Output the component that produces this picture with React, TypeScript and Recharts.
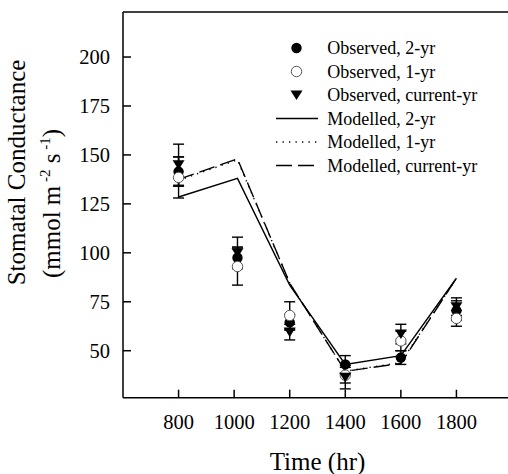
import { ComposedChart, Line, Scatter, XAxis, YAxis, ErrorBar, Legend } from 'recharts';

// hours of the observations (the mid-morning set was taken a bit after 1000)
const OBS_HOURS = [800, 1012, 1200, 1400, 1600, 1800];
const OBS_2YR = [141.5, 97.5, 64.5, 43, 46.5, 70.5];
const ERR_2YR = [7.5, 5.5, 4, 4.5, 3.5, 5];
const OBS_1YR = [138.5, 93, 68, 37.5, 55, 66.5];
const ERR_1YR = [10.5, 9.5, 7, 4, 5, 4];
const OBS_CUR = [145, 100, 59.5, 36.5, 58.5, 72.5];
const ERR_CUR = [10.5, 8, 4, 6, 5, 4.5];

const MOD_HOURS = [800, 1012, 1200, 1400, 1600, 1800];
const MOD_2YR = [128.5, 138, 83.5, 43, 47.5, 87];
const MOD_1YR = [137, 147.5, 84.5, 39.5, 44, 87];
const MOD_CUR = [137.5, 148, 84.5, 39.5, 43.5, 87];

const X_TICKS = [800, 1000, 1200, 1400, 1600, 1800];
const Y_TICKS = [50, 75, 100, 125, 150, 175, 200];

const LEGEND_LABELS = [
  'Observed, 2-yr',
  'Observed, 1-yr',
  'Observed, current-yr',
  'Modelled, 2-yr',
  'Modelled, 1-yr',
  'Modelled, current-yr',
];

const FONT = '"Liberation Serif", "Times New Roman", serif';

const toRows = (xs: number[], ys: number[], errs?: number[]) =>
  xs.map((x, i) => ({ x, y: ys[i], err: errs ? errs[i] : 0 }));

const FilledDot = (p: any) => <circle cx={p.cx} cy={p.cy} r={5.2} fill="#000" />;
const OpenDot = (p: any) => <circle cx={p.cx} cy={p.cy} r={5.2} fill="#fff" stroke="#555" strokeWidth={1} />;
const DownTri = (p: any) => (
  <path d={`M${p.cx - 6},${p.cy - 4.5} L${p.cx + 6},${p.cy - 4.5} L${p.cx},${p.cy + 5} Z`} fill="#000" />
);

const LegendBox = () => {
  const rowY = (i: number) => 13 + i * 23.5;
  return (
    <svg width={238} height={150} style={{ display: 'block' }}>
      <circle cx={26.5} cy={rowY(0)} r={5.2} fill="#000" />
      <circle cx={26.5} cy={rowY(1)} r={5.2} fill="none" stroke="#555" strokeWidth={1} />
      <path d={`M20.5,${rowY(2) - 4.5} L32.5,${rowY(2) - 4.5} L26.5,${rowY(2) + 5} Z`} fill="#000" />
      <line x1={6} x2={48} y1={rowY(3)} y2={rowY(3)} stroke="#000" strokeWidth={1.3} />
      <line x1={6} x2={48} y1={rowY(4)} y2={rowY(4)} stroke="#000" strokeWidth={1.3} strokeDasharray="1.3 5.2" />
      <line x1={6} x2={48} y1={rowY(5)} y2={rowY(5)} stroke="#000" strokeWidth={1.3} strokeDasharray="16 6" />
      {LEGEND_LABELS.map((t, i) => (
        <text key={t} x={57.3} y={rowY(i) + 6} fontSize={18} fontFamily={FONT} fill="#000">
          {t}
        </text>
      ))}
    </svg>
  );
};

const YTitle = () => (
  <g>
    <text transform="translate(25,172.5) rotate(-90)" textAnchor="middle" fontSize={25} fontFamily={FONT} fill="#000">
      Stomatal Conductance
    </text>
    <text transform="translate(60,203.5) rotate(-90)" textAnchor="middle" fontSize={25} fontFamily={FONT} fill="#000">
      (mmol m
      <tspan fontSize={15} dy={-10}> -2</tspan>
      <tspan dy={10}> s</tspan>
      <tspan fontSize={15} dy={-10}> -1</tspan>
      <tspan dy={10}>)</tspan>
    </text>
  </g>
);

const XTitle = () => (
  <text x={317.5} y={470} textAnchor="middle" fontSize={25} fontFamily={FONT} fill="#000">
    Time (hr)
  </text>
);

const axisLine = { stroke: '#000', strokeWidth: 1.5 };
const tickStyle = { fill: '#000', fontSize: 20.5, fontFamily: FONT };

export default function App() {
  return (
    <div style={{ position: 'absolute', left: 0, top: 0, width: 508, height: 474, overflow: 'hidden', background: '#fff' }}>
      <ComposedChart width={520} height={474} margin={{ top: 11, right: 8, bottom: 0, left: 0 }}>
        <XAxis
          type="number"
          dataKey="x"
          domain={[600, 2000]}
          ticks={X_TICKS}
          allowDataOverflow
          height={76.3}
          tickSize={-8}
          tickMargin={25}
          axisLine={axisLine}
          tickLine={axisLine}
          tick={tickStyle}
          label={XTitle}
        />
        <XAxis
          xAxisId="top"
          orientation="top"
          type="number"
          dataKey="x"
          domain={[600, 2000]}
          ticks={X_TICKS}
          allowDataOverflow
          height={1}
          tickSize={-8}
          axisLine={axisLine}
          tickLine={axisLine}
          tick={false}
        />
        <YAxis
          type="number"
          dataKey="y"
          domain={[26, 223]}
          ticks={Y_TICKS}
          allowDataOverflow
          width={123}
          tickSize={-8}
          tickMargin={21}
          axisLine={axisLine}
          tickLine={axisLine}
          tick={tickStyle}
          label={YTitle}
        />
        <Legend
          layout="vertical"
          align="center"
          verticalAlign="middle"
          content={LegendBox}
          wrapperStyle={{ left: 270, top: 35, width: 238, height: 150 }}
        />

        <Line data={toRows(MOD_HOURS, MOD_2YR)} dataKey="y" name="Modelled, 2-yr" type="linear" stroke="#000" strokeWidth={1.4} dot={false} isAnimationActive={false} />
        <Line data={toRows(MOD_HOURS, MOD_1YR)} dataKey="y" name="Modelled, 1-yr" type="linear" stroke="#000" strokeWidth={1.4} strokeDasharray="1.3 5.2" dot={false} isAnimationActive={false} />
        <Line data={toRows(MOD_HOURS, MOD_CUR)} dataKey="y" name="Modelled, current-yr" type="linear" stroke="#000" strokeWidth={1.4} strokeDasharray="16 6" dot={false} isAnimationActive={false} />

        <Scatter data={toRows(OBS_HOURS, OBS_2YR, ERR_2YR)} dataKey="y" name="Observed, 2-yr" shape={FilledDot} isAnimationActive={false}>
          <ErrorBar dataKey="err" direction="y" width={5.5} stroke="#000" strokeWidth={1.4} isAnimationActive={false} />
        </Scatter>
        <Scatter data={toRows(OBS_HOURS, OBS_1YR, ERR_1YR)} dataKey="y" name="Observed, 1-yr" shape={OpenDot} isAnimationActive={false}>
          <ErrorBar dataKey="err" direction="y" width={5.5} stroke="#000" strokeWidth={1.4} isAnimationActive={false} />
        </Scatter>
        <Scatter data={toRows(OBS_HOURS, OBS_CUR, ERR_CUR)} dataKey="y" name="Observed, current-yr" shape={DownTri} isAnimationActive={false}>
          <ErrorBar dataKey="err" direction="y" width={5.5} stroke="#000" strokeWidth={1.4} isAnimationActive={false} />
        </Scatter>
      </ComposedChart>
    </div>
  );
}
